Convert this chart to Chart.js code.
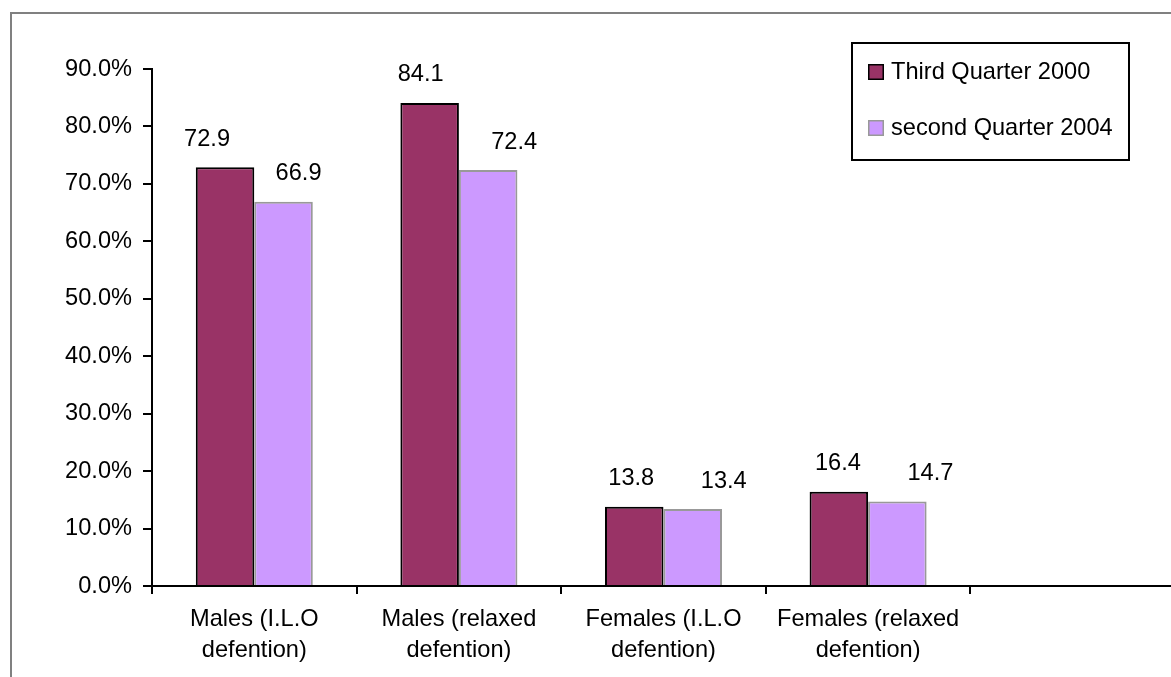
<!DOCTYPE html>
<html>
<head>
<meta charset="utf-8">
<script src="https://cdn.jsdelivr.net/npm/chart.js@4/dist/chart.umd.min.js"></script>
<style>
  html, body { margin: 0; padding: 0; background: #fff; overflow: hidden; }
  #wrap { width: 1171px; height: 677px; overflow: hidden; position: relative; }
  canvas { display: block; }
</style>
</head>
<body>
<div id="wrap"><canvas id="c" width="1200" height="677"></canvas></div>
<script>
// Categories (two-line axis labels); the last slot is left empty on purpose.
const categories = [
  ['Males (I.L.O', 'defention)'],
  ['Males (relaxed', 'defention)'],
  ['Females (I.L.O', 'defention)'],
  ['Females (relaxed', 'defention)'],
  ''
];
const seriesNames = ['Third Quarter 2000', 'second Quarter 2004'];
const thirdQuarter2000 = [72.9, 84.1, 13.8, 16.4, null];
const secondQuarter2004 = [66.9, 72.4, 13.4, 14.7, null];
const yTickLabels = ['0.0%', '10.0%', '20.0%', '30.0%', '40.0%', '50.0%', '60.0%', '70.0%', '80.0%', '90.0%'];

const FONT_FAMILY = "'Liberation Sans', Arial, Helvetica, sans-serif";
const FONT_SIZE = 23.6;
Chart.defaults.font.family = FONT_FAMILY;
Chart.defaults.font.size = FONT_SIZE;
Chart.defaults.color = '#000';

// White page with the thin grey frame around the chart object
const frame = {
  id: 'frame',
  beforeDraw(chart) {
    const ctx = chart.ctx;
    ctx.save();
    ctx.fillStyle = '#fff';
    ctx.fillRect(0, 0, chart.width, chart.height);
    ctx.strokeStyle = '#808080';
    ctx.lineWidth = 2;
    ctx.strokeRect(11, 13, 1400, 900);
    ctx.restore();
  }
};

// Value labels above each bar
const valueLabels = {
  id: 'valueLabels',
  afterDatasetsDraw(chart, args, opts) {
    const ctx = chart.ctx;
    ctx.save();
    ctx.font = FONT_SIZE + 'px ' + FONT_FAMILY;
    ctx.fillStyle = '#000';
    ctx.textAlign = 'center';
    ctx.textBaseline = 'middle';
    chart.data.datasets.forEach((ds, di) => {
      const meta = chart.getDatasetMeta(di);
      meta.data.forEach((bar, i) => {
        const v = ds.data[i];
        if (v === null || v === undefined) return;
        const dx = opts.shiftX[di][i] || 0;
        ctx.fillText(v.toFixed(1), bar.x + dx, bar.y - opts.gap);
      });
    });
    ctx.restore();
  }
};

// Boxed legend in the upper right corner of the plot
const boxedLegend = {
  id: 'boxedLegend',
  afterDraw(chart, args, opts) {
    const ctx = chart.ctx;
    const b = opts.box;
    ctx.save();
    ctx.fillStyle = '#fff';
    ctx.fillRect(b.x, b.y, b.w, b.h);
    ctx.strokeStyle = '#000';
    ctx.lineWidth = 2;
    ctx.strokeRect(b.x, b.y, b.w, b.h);
    ctx.font = FONT_SIZE + 'px ' + FONT_FAMILY;
    ctx.textAlign = 'left';
    ctx.textBaseline = 'middle';
    chart.data.datasets.forEach((ds, i) => {
      const cy = opts.rows[i];
      const s = opts.swatch;
      ctx.fillStyle = ds.backgroundColor;
      ctx.fillRect(opts.swatchX, cy - s / 2, s, s);
      ctx.strokeStyle = ds.borderColor;
      ctx.lineWidth = 1.5;
      ctx.strokeRect(opts.swatchX + 0.75, cy - s / 2 + 0.75, s - 1.5, s - 1.5);
      ctx.fillStyle = '#000';
      ctx.fillText(ds.label, opts.textX, cy);
    });
    ctx.restore();
  }
};

new Chart(document.getElementById('c'), {
  type: 'bar',
  data: {
    labels: categories,
    datasets: [
      {
        label: seriesNames[0],
        data: thirdQuarter2000,
        backgroundColor: '#993366',
        borderColor: '#000000',
        borderWidth: 2,
        borderSkipped: 'start'
      },
      {
        label: seriesNames[1],
        data: secondQuarter2004,
        backgroundColor: '#CC99FF',
        borderColor: '#999999',
        borderWidth: 2,
        borderSkipped: 'start'
      }
    ]
  },
  options: {
    responsive: false,
    animation: false,
    devicePixelRatio: 1,
    layout: { padding: { left: 0, top: 69, right: 25, bottom: 0 } },
    datasets: { bar: { categoryPercentage: 0.572, barPercentage: 1.0 } },
    plugins: {
      legend: { display: false },
      tooltip: { enabled: false },
      valueLabels: {
        gap: 28,
        shiftX: [[-18, -9, -3, -1], [15, 26, 31, 33]]
      },
      boxedLegend: {
        box: { x: 852, y: 43, w: 277, h: 117 },
        swatchX: 868, swatch: 16, textX: 891,
        rows: [72, 128]
      }
    },
    scales: {
      x: {
        offset: true,
        afterFit(scale) { scale.height = 91; },
        grid: {
          display: true, offset: true, drawOnChartArea: false, drawTicks: true,
          tickLength: 8, color: '#000', lineWidth: 2
        },
        border: { display: true, color: '#000', width: 2 },
        ticks: {
          autoSkip: false, maxRotation: 0, minRotation: 0, padding: 10,
          font: { size: FONT_SIZE, lineHeight: 1.31 }, color: '#000'
        }
      },
      y: {
        min: 0, max: 90,
        afterFit(scale) { scale.width = 152; },
        grid: {
          display: true, drawOnChartArea: false, drawTicks: true,
          tickLength: 9, color: '#000', lineWidth: 2
        },
        border: { display: true, color: '#000', width: 2 },
        ticks: {
          stepSize: 10, autoSkip: false, padding: 11, color: '#000',
          font: { size: FONT_SIZE },
          callback: (value, index) => yTickLabels[index]
        }
      }
    }
  },
  plugins: [frame, valueLabels, boxedLegend]
});
</script>
</body>
</html>
